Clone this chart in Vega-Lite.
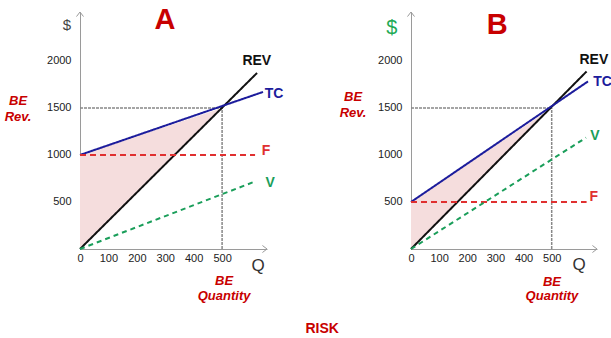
{
  "padding": {"left": 4, "top": 6, "right": 0, "bottom": 0},
  "background": "white",
  "config": {
    "view": {"stroke": null},
    "font": "Liberation Sans",
    "axis": {"domainColor": "#9a9a9a", "domainWidth": 1, "ticks": false, "grid": false, "labelFont": "Liberation Sans", "labelFontSize": 11, "labelColor": "#222222", "title": null, "labelOverlap": false, "labelFlush": false, "labelBound": false, "labelSeparation": 0},
    "axisX": {"labelOverlap": false},
    "axisQuantitative": {"labelOverlap": false}
  },
  "spacing": 144,
  "bounds": "flush",
  "resolve": {"scale": {"x": "independent", "y": "independent", "color": "independent", "strokeDash": "independent", "shape": "independent"}},
  "hconcat": [
    {
      "width": 187, "height": 237,
      "encoding": {
        "x": {"field": "q", "type": "quantitative", "scale": {"domain": [0, 658], "nice": false, "zero": false}, "axis": {"values": [0, 100, 200, 300, 400, 500], "format": "d", "labelPadding": 3, "labelOverlap": false}},
        "y": {"field": "v", "type": "quantitative", "scale": {"domain": [0, 2520], "nice": false, "zero": false}, "axis": {"values": [500, 1000, 1500, 2000], "format": "d", "labelPadding": 9, "labelOverlap": false}}
      },
      "layer": [
        {
          "data": {"values": [{"q": 0, "v": 0, "v2": 1000}, {"q": 500, "v": 1500, "v2": 1500}]},
          "mark": {"type": "area", "color": "#f5dddd"},
          "encoding": {"y2": {"field": "v2"}}
        },
        {
          "data": {"values": [{"q": 0, "q2": 500, "v": 1500, "v2": 1500}, {"q": 500, "q2": 500, "v": 0, "v2": 1500}]},
          "mark": {"type": "rule", "color": "#888888", "strokeWidth": 1.5, "strokeDash": [3, 1]},
          "encoding": {"x2": {"field": "q2"}, "y2": {"field": "v2"}}
        },
        {
          "data": {"values": [
            {"series": "REV", "q": 0, "v": 0}, {"series": "REV", "q": 623, "v": 1872},
            {"series": "TC", "q": 0, "v": 1000}, {"series": "TC", "q": 644, "v": 1670},
            {"series": "F", "q": 0, "v": 1000}, {"series": "F", "q": 616, "v": 1000},
            {"series": "V", "q": 0, "v": 0}, {"series": "V", "q": 616, "v": 718}
          ]},
          "mark": {"type": "line", "strokeWidth": 2},
          "encoding": {
            "color": {"field": "series", "type": "nominal", "scale": {"domain": ["REV", "TC", "F", "V"], "range": ["#111111", "#1c1c9c", "#e03030", "#1a9e5a"]}, "legend": null},
            "strokeDash": {"field": "series", "type": "nominal", "scale": {"domain": ["REV", "TC", "F", "V"], "range": [[1, 0], [1, 0], [6, 4], [5, 4]]}, "legend": null}
          }
        },
        {
          "data": {"values": [{"dir": "up", "q": 0, "v": 2520}, {"dir": "right", "q": 658, "v": 0}]},
          "mark": {"type": "point", "filled": false, "color": "#9a9a9a", "strokeWidth": 1, "size": 49, "opacity": 1},
          "encoding": {
            "shape": {"field": "dir", "type": "nominal", "scale": {"domain": ["up", "right"], "range": ["M-1,1.3L0,0L1,1.3", "M-1.3,-1L0,0L-1.3,1"]}, "legend": null}
          }
        },
        {
          "data": {"values": [{"series": "REV", "q": 622, "v": 1998}, {"series": "TC", "q": 683, "v": 1647}, {"series": "F", "q": 655, "v": 1040}, {"series": "V", "q": 669, "v": 707}]},
          "mark": {"type": "text", "fontSize": 14, "fontWeight": "bold", "baseline": "middle", "align": "center"},
          "encoding": {
            "text": {"field": "series"},
            "color": {"field": "series", "type": "nominal", "legend": null}
          }
        },
        {
          "data": {"values": [{"t": "A", "q": 299, "v": 2431}]},
          "mark": {"type": "text", "fontSize": 29, "fontWeight": "bold", "color": "#c80000", "baseline": "middle", "align": "center"},
          "encoding": {"text": {"field": "t"}}
        },
        {
          "data": {"values": [{"t": "$", "q": -46, "v": 2378}]},
          "mark": {"type": "text", "fontSize": 15, "color": "#444444", "baseline": "middle", "align": "center"},
          "encoding": {"text": {"field": "t"}}
        },
        {
          "data": {"values": [{"t": "Q", "q": 627, "v": -176}]},
          "mark": {"type": "text", "fontSize": 17, "color": "#333333", "baseline": "middle", "align": "center"},
          "encoding": {"text": {"field": "t"}}
        },
        {
          "data": {"values": [
            {"t": "BE", "q": -218, "v": 1569}, {"t": "Rev.", "q": -218, "v": 1399},
            {"t": "BE", "q": 507, "v": -335}, {"t": "Quantity", "q": 507, "v": -495}
          ]},
          "mark": {"type": "text", "fontSize": 13, "fontWeight": "bold", "fontStyle": "italic", "color": "#c80000", "baseline": "middle", "align": "center"},
          "encoding": {"text": {"field": "t"}}
        },
        {
          "data": {"values": [{"t": "RISK", "q": 852, "v": -846}]},
          "mark": {"type": "text", "fontSize": 14, "fontWeight": "bold", "color": "#c80000", "baseline": "middle", "align": "center"},
          "encoding": {"text": {"field": "t"}}
        }
      ]
    },
    {
      "width": 186, "height": 237,
      "encoding": {
        "x": {"field": "q", "type": "quantitative", "scale": {"domain": [0, 661], "nice": false, "zero": false}, "axis": {"values": [0, 100, 200, 300, 400, 500], "format": "d", "labelPadding": 3, "labelOverlap": false}},
        "y": {"field": "v", "type": "quantitative", "scale": {"domain": [0, 2520], "nice": false, "zero": false}, "axis": {"values": [500, 1000, 1500, 2000], "format": "d", "labelPadding": 9, "labelOverlap": false}}
      },
      "layer": [
        {
          "data": {"values": [{"q": 0, "v": 0, "v2": 500}, {"q": 500, "v": 1500, "v2": 1500}]},
          "mark": {"type": "area", "color": "#f5dddd"},
          "encoding": {"y2": {"field": "v2"}}
        },
        {
          "data": {"values": [{"q": 0, "q2": 500, "v": 1500, "v2": 1500}, {"q": 500, "q2": 500, "v": 0, "v2": 1500}]},
          "mark": {"type": "rule", "color": "#888888", "strokeWidth": 1.5, "strokeDash": [3, 1]},
          "encoding": {"x2": {"field": "q2"}, "y2": {"field": "v2"}}
        },
        {
          "data": {"values": [
            {"series": "REV", "q": 0, "v": 0}, {"series": "REV", "q": 624, "v": 1888},
            {"series": "TC", "q": 0, "v": 500}, {"series": "TC", "q": 629, "v": 1782},
            {"series": "F", "q": 0, "v": 500}, {"series": "F", "q": 624, "v": 500},
            {"series": "V", "q": 0, "v": 0}, {"series": "V", "q": 622, "v": 1184}
          ]},
          "mark": {"type": "line", "strokeWidth": 2},
          "encoding": {
            "color": {"field": "series", "type": "nominal", "scale": {"domain": ["REV", "TC", "F", "V"], "range": ["#111111", "#1c1c9c", "#e03030", "#1a9e5a"]}, "legend": null},
            "strokeDash": {"field": "series", "type": "nominal", "scale": {"domain": ["REV", "TC", "F", "V"], "range": [[1, 0], [1, 0], [6, 4], [5, 4]]}, "legend": null}
          }
        },
        {
          "data": {"values": [{"dir": "up", "q": 0, "v": 2520}, {"dir": "right", "q": 661, "v": 0}]},
          "mark": {"type": "point", "filled": false, "color": "#9a9a9a", "strokeWidth": 1, "size": 49, "opacity": 1},
          "encoding": {
            "shape": {"field": "dir", "type": "nominal", "scale": {"domain": ["up", "right"], "range": ["M-1,1.3L0,0L1,1.3", "M-1.3,-1L0,0L-1.3,1"]}, "legend": null}
          }
        },
        {
          "data": {"values": [{"series": "REV", "q": 650, "v": 2005}, {"series": "TC", "q": 681, "v": 1771}, {"series": "V", "q": 654, "v": 1197}, {"series": "F", "q": 650, "v": 548}]},
          "mark": {"type": "text", "fontSize": 14, "fontWeight": "bold", "baseline": "middle", "align": "center"},
          "encoding": {
            "text": {"field": "series"},
            "color": {"field": "series", "type": "nominal", "legend": null}
          }
        },
        {
          "data": {"values": [{"t": "B", "q": 306, "v": 2378}]},
          "mark": {"type": "text", "fontSize": 29, "fontWeight": "bold", "color": "#c80000", "baseline": "middle", "align": "center"},
          "encoding": {"text": {"field": "t"}}
        },
        {
          "data": {"values": [{"t": "$", "q": -68, "v": 2346}]},
          "mark": {"type": "text", "fontSize": 20, "color": "#22aa55", "baseline": "middle", "align": "center"},
          "encoding": {"text": {"field": "t"}}
        },
        {
          "data": {"values": [{"t": "Q", "q": 597, "v": -165}]},
          "mark": {"type": "text", "fontSize": 17, "color": "#333333", "baseline": "middle", "align": "center"},
          "encoding": {"text": {"field": "t"}}
        },
        {
          "data": {"values": [
            {"t": "BE", "q": -206, "v": 1612}, {"t": "Rev.", "q": -206, "v": 1441},
            {"t": "BE", "q": 501, "v": -346}, {"t": "Quantity", "q": 501, "v": -505}
          ]},
          "mark": {"type": "text", "fontSize": 13, "fontWeight": "bold", "fontStyle": "italic", "color": "#c80000", "baseline": "middle", "align": "center"},
          "encoding": {"text": {"field": "t"}}
        }
      ]
    }
  ]
}
